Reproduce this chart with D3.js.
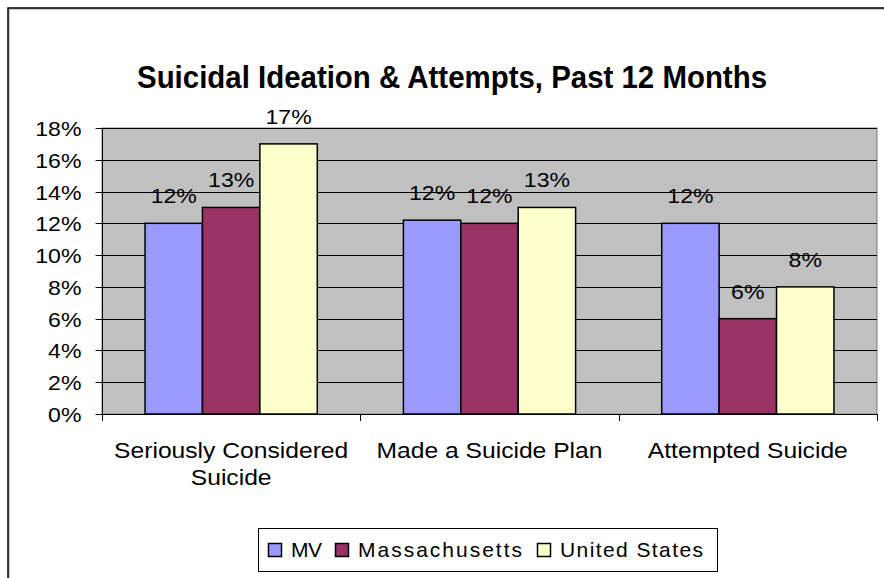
<!DOCTYPE html>
<html>
<head>
<meta charset="utf-8">
<script src="https://cdn.jsdelivr.net/npm/d3@7"></script>
<style>
  html, body { margin: 0; padding: 0; background: #fff; }
  svg { display: block; font-family: "Liberation Sans", Arial, sans-serif; }
</style>
</head>
<body>
<svg id="chart" width="884" height="578"></svg>
<script>
// Survey results, share of students (%)
const categories = [["Seriously Considered", "Suicide"], ["Made a Suicide Plan"], ["Attempted Suicide"]];
const seriesNames = ["MV", "Massachusetts", "United States"];
const mvValues = [12, 12.2, 12];
const maValues = [13, 12, 6];
const usValues = [17, 13, 8];
const yTicks = [0, 2, 4, 6, 8, 10, 12, 14, 16, 18];
const colors = ["#9999FF", "#993366", "#FFFFCC"];

const series = [mvValues, maValues, usValues];
const svg = d3.select("#chart");

// widen glyphs horizontally by a factor, keeping the anchor
function widen(sel, k) {
  sel.each(function () {
    const len = this.getComputedTextLength();
    d3.select(this).attr("textLength", len * k).attr("lengthAdjust", "spacingAndGlyphs");
  });
}

// Outer chart frame (open at right and bottom edges of the page)
svg.append("rect")
  .attr("x", 9).attr("y", 9)
  .attr("width", 900).attr("height", 600)
  .attr("fill", "none").attr("stroke", "#999").attr("stroke-width", 1);
svg.append("rect")
  .attr("x", 8).attr("y", 8)
  .attr("width", 900).attr("height", 600)
  .attr("fill", "none").attr("stroke", "#000").attr("stroke-width", 1.5);

// Title
svg.append("text")
  .attr("x", 452).attr("y", 88)
  .attr("text-anchor", "middle")
  .attr("font-weight", "bold")
  .attr("font-size", 31)
  .attr("textLength", 630).attr("lengthAdjust", "spacingAndGlyphs")
  .text("Suicidal Ideation & Attempts, Past 12 Months");

const plot = { left: 102, right: 877, top: 128, bottom: 414 };

const y = d3.scaleLinear().domain([0, 18]).range([plot.bottom, plot.top]);
const x0 = d3.scaleBand().domain(d3.range(categories.length))
  .range([plot.left, plot.right]).paddingInner(0).paddingOuter(0);

// Plot background
svg.append("rect")
  .attr("x", plot.left).attr("y", plot.top)
  .attr("width", plot.right - plot.left).attr("height", plot.bottom - plot.top)
  .attr("fill", "#C0C0C0").attr("stroke", "#808080").attr("stroke-width", 1);

// Gridlines
svg.append("g").selectAll("line").data(yTicks.filter(d => d > 0)).join("line")
  .attr("x1", plot.left).attr("x2", plot.right)
  .attr("y1", d => Math.round(y(d)) + 0.5).attr("y2", d => Math.round(y(d)) + 0.5)
  .attr("stroke", "#000").attr("stroke-width", 1);

// Y axis
const yAxis = svg.append("g")
  .attr("transform", `translate(${plot.left + 0.5},0)`)
  .call(d3.axisLeft(y).tickValues(yTicks).tickSize(7).tickPadding(14)
    .tickFormat(d => d + "%"));
yAxis.select(".domain").attr("stroke", "#000").attr("d", `M0,${plot.top}V${plot.bottom + 0.5}`);
yAxis.selectAll(".tick line").attr("stroke", "#000");
yAxis.selectAll(".tick").attr("transform", d => `translate(0,${Math.round(y(d)) + 0.5})`);
yAxis.selectAll("text").attr("font-size", 21).attr("fill", "#000")
  .attr("font-family", "Liberation Sans, Arial, sans-serif").attr("dy", "0.36em");
widen(yAxis.selectAll("text"), 1.1);

// X axis line and category boundary ticks
svg.append("line")
  .attr("x1", plot.left).attr("x2", plot.right)
  .attr("y1", plot.bottom + 0.5).attr("y2", plot.bottom + 0.5)
  .attr("stroke", "#000");
const bounds = d3.range(categories.length + 1).map(i => plot.left + i * x0.step());
svg.append("g").selectAll("line").data(bounds).join("line")
  .attr("x1", d => Math.round(d) + 0.5).attr("x2", d => Math.round(d) + 0.5)
  .attr("y1", plot.bottom).attr("y2", plot.bottom + 7)
  .attr("stroke", "#000");

// Bars: three per group, gap of 1.5 bar widths between groups
const barW = x0.bandwidth() / (3 + 1.5);
const groupOffset = (x0.bandwidth() - 3 * barW) / 2;
const bars = [];
categories.forEach((c, ci) => {
  series.forEach((vals, si) => {
    bars.push({ ci, si, v: vals[ci] });
  });
});
svg.append("g").selectAll("rect").data(bars).join("rect")
  .attr("x", d => x0(d.ci) + groupOffset + d.si * barW)
  .attr("y", d => y(d.v))
  .attr("width", barW)
  .attr("height", d => y(0) - y(d.v))
  .attr("fill", d => colors[d.si])
  .attr("stroke", "#000").attr("stroke-width", 1.5);

// Value labels
const valueLabels = svg.append("g").selectAll("text").data(bars).join("text")
  .attr("x", d => x0(d.ci) + groupOffset + (d.si + 0.5) * barW)
  .attr("y", d => y(d.v) - 20)
  .attr("text-anchor", "middle")
  .attr("font-size", 21)
  .text(d => Math.round(d.v) + "%");
widen(valueLabels, 1.1);

// Category labels
categories.forEach((lines, ci) => {
  const cx = x0(ci) + x0.bandwidth() / 2;
  lines.forEach((ln, li) => {
    const t = svg.append("text")
      .attr("x", cx)
      .attr("y", 458 + li * 27)
      .attr("text-anchor", "middle")
      .attr("font-size", 22)
      .text(ln);
    widen(t, 1.12);
  });
});

// Legend
const legend = svg.append("g");
legend.append("rect")
  .attr("x", 258.5).attr("y", 528.5).attr("width", 459).attr("height", 43)
  .attr("fill", "#fff").attr("stroke", "#000").attr("stroke-width", 1);
const legendItems = [
  { name: seriesNames[0], sx: 268, tx: 291, w: 31 },
  { name: seriesNames[1], sx: 335, tx: 358, w: 164 },
  { name: seriesNames[2], sx: 537, tx: 560, w: 143 }
];
legendItems.forEach((it, i) => {
  legend.append("rect")
    .attr("x", it.sx + 0.5).attr("y", 543.5).attr("width", 13).attr("height", 13)
    .attr("fill", colors[i]).attr("stroke", "#000").attr("stroke-width", 1.5);
  legend.append("text")
    .attr("x", it.tx).attr("y", 557)
    .attr("font-size", 21)
    .attr("textLength", it.w).attr("lengthAdjust", "spacing")
    .text(it.name);
});
</script>
</body>
</html>
